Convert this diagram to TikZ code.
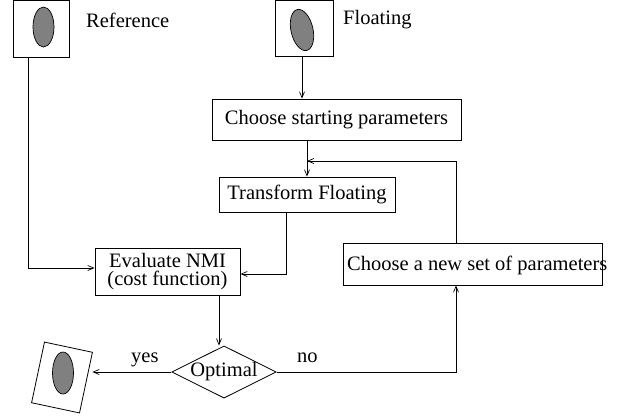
\documentclass[tikz,border=0pt]{standalone}
\usepackage{fontspec}
\setmainfont{Liberation Serif}
\usetikzlibrary{arrows.meta,shapes.geometric}

\tikzset{
  box/.style={draw, rectangle, inner sep=0pt, line width=0.8pt},
  blob/.style={draw, ellipse, fill=black!50, inner sep=0pt, line width=0.7pt},
  lbl/.style={inner sep=0pt, anchor=base west},
  arr/.style={line width=0.8pt, -{Straight Barb[length=6pt,width=5pt,line width=0.7pt]}},
}

\begin{document}
\begin{tikzpicture}[x=1pt, y=-1pt, font=\fontsize{20.5}{24}\selectfont]
  \useasboundingbox (0,0) rectangle (621,416);

  % image icons
  \node[box, minimum width=56pt, minimum height=57pt] (ref) at (41,28.5) {};
  \node[blob, minimum width=21pt, minimum height=40pt] (refblob) at (43.5,27) {};
  \node[lbl] (reflabel) at (86,27) {Reference};

  \node[box, minimum width=58pt, minimum height=56pt] (float) at (304,28) {};
  \node[blob, minimum width=22pt, minimum height=42pt, rotate=13] (floatblob) at (302,30) {};
  \node[lbl] (floatlabel) at (343,24) {Floating};

  \node[box, minimum width=49pt, minimum height=62pt, rotate=-12] (out) at (62,377.5) {};
  \node[blob, minimum width=21pt, minimum height=42pt] (outblob) at (63,373) {};

  % process steps
  \node[box, minimum width=249pt, minimum height=41pt] (start) at (336.5,119.5) {Choose starting parameters};
  \node[box, minimum width=176pt, minimum height=35pt] (trans) at (307,194.5) {Transform Floating};
  \node[box, minimum width=145pt, minimum height=47pt, align=center,
        font=\fontsize{20.5}{18.5}\selectfont] (eval) at (167.5,271.5) {Evaluate NMI\\(cost function)};
  \node[box, minimum width=259pt, minimum height=42pt] (new) at (472.5,264) {};
  \node[lbl] (newtext) at (347,270) {Choose a new set of parameters};
  \node[draw, diamond, aspect=2, inner sep=0pt, minimum width=104pt, minimum height=51pt,
        line width=0.8pt] (opt) at (224,372) {Optimal};

  % connectors
  \coordinate (merge) at (307,161);
  \draw[arr] ([xshift=-13pt]ref.south) |- ([yshift=3.5pt]eval.west);
  \draw[arr] ([xshift=-2pt]float.south) -- ([xshift=-2pt]float.south |- start.north);
  \draw[arr] (trans.north |- start.south) -- (trans.north);
  \draw[arr] ([xshift=-16.5pt]new.north) |- (merge);
  \draw[arr] ([xshift=-21pt]trans.south) |- ([yshift=-2.5pt]eval.east);
  \draw[arr] ([xshift=51.5pt]eval.south) -- ([xshift=51.5pt]eval.south |- opt.north);
  \draw[arr] (opt.west) -- ([xshift=6pt]out.east |- opt.west);
  \draw[arr] (opt.east) -| ([xshift=-16.5pt]new.south);

  \node[lbl] (yes) at (131,362) {yes};
  \node[lbl] (no) at (297,362) {no};
\end{tikzpicture}
\end{document}
